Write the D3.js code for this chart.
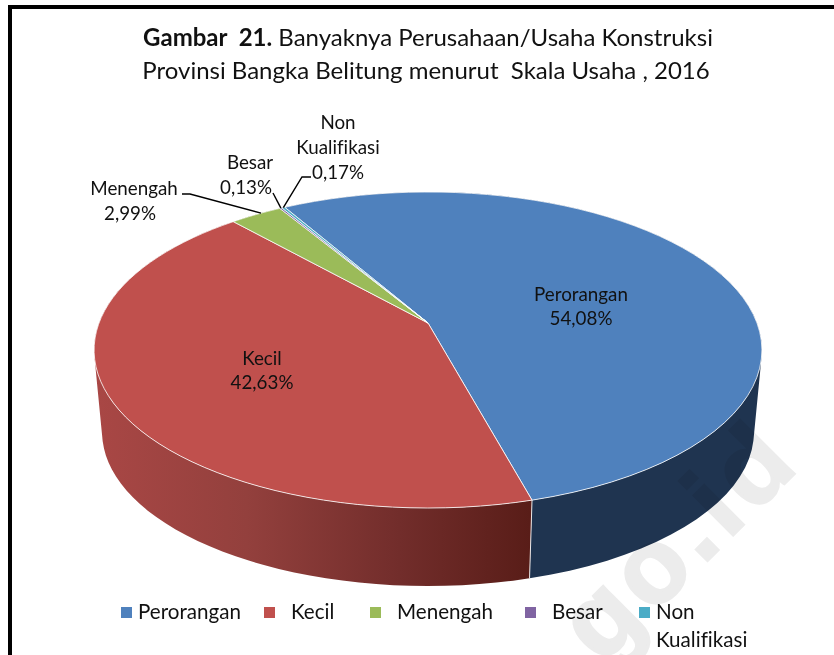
<!DOCTYPE html>
<html>
<head>
<meta charset="utf-8">
<title>Gambar 21</title>
<script src="https://cdn.jsdelivr.net/npm/d3@7"></script>
<style>
    html, body { margin: 0; padding: 0; background: #fff; overflow: hidden; }
    text { font-family: Lato, "Open Sans", sans-serif; fill: #111; font-variant-ligatures: none; }
</style>
</head>
<body>
<div id="chart"></div>
<script>
    // Data
    const categories = ['Perorangan', 'Kecil', 'Menengah', 'Besar', 'Non Kualifikasi'];
    const shares = [54.08, 42.63, 2.99, 0.13, 0.17];
    const shareLabels = ['54,08%', '42,63%', '2,99%', '0,13%', '0,17%'];
    const sliceColors = ['#4f81bd', '#c0504d', '#9bbb59', '#8064a2', '#4bacc6'];

    const width = 834;
    const height = 655;

    const svg = d3.select('#chart').append('svg')
        .attr('width', width)
        .attr('height', height);

    const color = d3.scaleOrdinal().domain(categories).range(sliceColors);

    // Pie lies on a tilted plane, so the centre of the circle is not the centre of the ellipse
    const tilt = { cx: 428, cy: 323, a: 329, b: 153.4, k: 0.1709 };
    const topEllipse = { cx: 428, cy: 350, rx: 334, ry: 158 };
    const bottomEllipse = { cx: 428, cy: 432, rx: 326, ry: 154 };

    function projectTop(angle) {
        const u = Math.sin(angle);
        const v = -Math.cos(angle);
        const d = 1 - tilt.k * v;
        return [tilt.cx + tilt.a * u / d, tilt.cy + tilt.b * v / d];
    }

    function projectBottom(angle) {
        const p = projectTop(angle);
        return [
            bottomEllipse.cx + (p[0] - topEllipse.cx) * bottomEllipse.rx / topEllipse.rx,
            bottomEllipse.cy + (p[1] - topEllipse.cy) * bottomEllipse.ry / topEllipse.ry
        ];
    }

    const firstAngle = -30 * Math.PI / 180;
    const pie = d3.pie()
        .sort(null)
        .startAngle(firstAngle)
        .endAngle(firstAngle + 2 * Math.PI);
    const slices = pie(shares);

    const line = d3.line();

    function arcAngles(d) {
        return d3.range(0, 61).map(i => d.startAngle + (d.endAngle - d.startAngle) * i / 60);
    }

    // Side wall as small quads, all wound the same way so none of them cancel out
    function wallPath(d) {
        const angles = arcAngles(d);
        return angles.slice(1).map((angle, i) => {
            const quad = [projectTop(angles[i]), projectTop(angle), projectBottom(angle), projectBottom(angles[i])];
            if (d3.polygonArea(quad) < 0) quad.reverse();
            return line(quad) + 'Z';
        }).join('');
    }

    // Gradient for the red side wall
    const redStops = [['0%', '#a94745'], ['35%', '#93403d'], ['70%', '#722d2b'], ['100%', '#591d18']];
    const redSide = svg.append('defs').append('linearGradient')
        .attr('id', 'side-red')
        .attr('gradientUnits', 'userSpaceOnUse')
        .attr('x1', 95).attr('x2', 530).attr('y1', 0).attr('y2', 0);
    redStops.forEach(s => redSide.append('stop').attr('offset', s[0]).attr('stop-color', s[1]));

    const sideFill = ['#1f3450', 'url(#side-red)', '#5f7530', '#4d3c62', '#2d6777'];

    // Side wall first, the top face covers whatever is at the back
    svg.append('g')
        .selectAll('path')
        .data(slices)
        .join('path')
        .attr('d', wallPath)
        .attr('fill', (d, i) => sideFill[i]);

    // Edge between the red and blue wall
    const split = slices[0].endAngle;
    svg.append('path')
        .attr('d', line([projectTop(split), projectBottom(split)]))
        .attr('stroke', '#e8e4e4')
        .attr('stroke-width', 1)
        .attr('fill', 'none');

    // Top face
    svg.append('g')
        .selectAll('path')
        .data(slices)
        .join('path')
        .attr('d', d => line([[tilt.cx, tilt.cy]].concat(arcAngles(d).map(projectTop))) + 'Z')
        .attr('fill', (d, i) => color(categories[i]))
        .attr('stroke', '#fff')
        .attr('stroke-opacity', 0.8)
        .attr('stroke-width', 1)
        .attr('stroke-linejoin', 'round');

    // Data labels, one text per row
    const labelRows = [
        { x: 581, y: 294, row: categories[0] },
        { x: 581, y: 318, row: shareLabels[0] },
        { x: 262, y: 358, row: categories[1] },
        { x: 262, y: 382, row: shareLabels[1] },
        { x: 134, y: 188, row: categories[2] },
        { x: 130, y: 213, row: shareLabels[2] },
        { x: 250, y: 162, row: 'Besar' },
        { x: 246, y: 187, row: shareLabels[3] },
        { x: 338, y: 122, row: 'Non' },
        { x: 338, y: 147, row: 'Kualifikasi' },
        { x: 338, y: 172, row: shareLabels[4] }
    ];

    svg.append('g')
        .selectAll('text')
        .data(labelRows)
        .join('text')
        .attr('x', d => d.x)
        .attr('y', d => d.y)
        .attr('dy', '0.35em')
        .attr('text-anchor', 'middle')
        .style('font-size', '18.8px')
        .text(d => d.row);

    // Leader lines from the small slices
    const mid = d => (d.startAngle + d.endAngle) / 2;
    const leaders = [
        [[182, 194], [190, 194], projectTop(mid(slices[2]) + 0.02)],
        [[273, 193], projectTop(mid(slices[3]))],
        [[311, 177], [302, 177], projectTop(mid(slices[4]))]
    ];

    svg.append('g')
        .selectAll('path')
        .data(leaders)
        .join('path')
        .attr('d', d => line(d))
        .attr('fill', 'none')
        .attr('stroke', '#000')
        .attr('stroke-width', 1.4);

    // Title
    const title = svg.append('g').attr('text-anchor', 'middle').style('font-size', '24px');
    const firstRow = title.append('text')
        .attr('x', 428)
        .attr('y', 46)
        .attr('xml:space', 'preserve');
    firstRow.append('tspan').style('font-weight', 700).text('Gambar  21.');
    firstRow.append('tspan').text(' Banyaknya Perusahaan/Usaha Konstruksi');
    title.append('text')
        .attr('x', 426)
        .attr('y', 79)
        .attr('xml:space', 'preserve')
        .text('Provinsi Bangka Belitung menurut  Skala Usaha , 2016');

    // Legend
    const legendMarkers = [121, 264, 370, 525, 639];
    const legendTexts = [138, 291, 397, 552, 656];

    const legend = svg.append('g')
        .selectAll('g')
        .data(categories)
        .join('g');

    legend.append('rect')
        .attr('x', (d, i) => legendMarkers[i])
        .attr('y', 607)
        .attr('width', 11)
        .attr('height', 11)
        .attr('fill', d => color(d));

    legend.append('text')
        .attr('x', (d, i) => legendTexts[i])
        .attr('y', 612)
        .attr('dy', '0.35em')
        .style('font-size', '20.6px')
        .text(d => d.split(' ')[0]);

    legend.filter(d => d.includes(' ')).append('text')
        .attr('x', 656)
        .attr('y', 640)
        .attr('dy', '0.35em')
        .style('font-size', '20.6px')
        .text(d => d.split(' ')[1]);

    // Site watermark, laid over everything
    svg.append('text')
        .attr('transform', 'translate(804,464) rotate(-45)')
        .attr('text-anchor', 'end')
        .style('font-family', '"Liberation Sans", sans-serif')
        .style('font-weight', 700)
        .style('font-size', '105px')
        .style('letter-spacing', '7px')
        .style('fill', '#ececec')
        .style('stroke', '#ececec')
        .style('stroke-width', 3)
        .style('mix-blend-mode', 'multiply')
        .text('s.go.id');

    // Page frame, open on the right and bottom
    svg.append('path')
        .attr('d', line([[10, height], [10, 7], [width, 7]]))
        .attr('fill', 'none')
        .attr('stroke', '#000')
        .attr('stroke-width', 4);
</script>
</body>
</html>
